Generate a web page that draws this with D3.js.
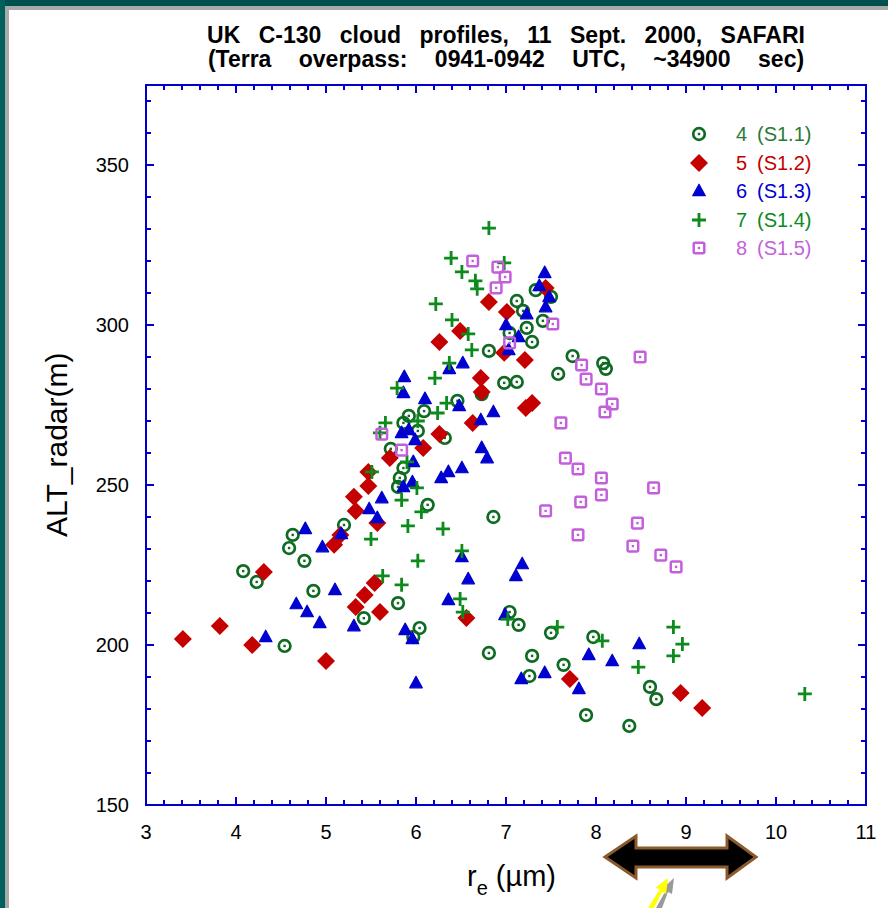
<!DOCTYPE html>
<html>
<head>
<meta charset="utf-8">
<title>UK C-130 cloud profiles</title>
<style>
  body { margin: 0; background: #fff; }
  text { font-family: "Liberation Sans", Arial, sans-serif; }
</style>
</head>
<body>
<svg id="chart" width="888" height="908"></svg>
<script src="https://d3js.org/d3.v7.min.js"></script>
<script>
// profile 4 (S1.1) - effective radius (um) and radar altitude (m)
const re4 = [4.08, 4.23, 4.63, 4.59, 4.76, 4.86, 4.54, 5.20, 5.80, 5.42, 6.04, 5.97, 6.13, 5.80, 5.82, 5.86, 5.72, 6.32,
  5.86, 6.02, 5.92, 6.09, 6.46, 6.73, 6.98, 7.12, 7.58, 7.74, 6.81, 7.04, 7.29, 7.23, 7.41, 7.12, 7.19, 7.33, 7.50,
  8.08, 8.11, 6.86, 7.04, 7.14, 6.81, 7.29, 7.26, 7.50, 7.64, 7.97, 8.60, 8.67, 7.89, 8.37];
const alt4 = [223.1, 219.7, 234.4, 230.3, 226.3, 216.9, 199.7, 237.5, 213.1, 208.4, 205.3, 202.5, 243.8, 249.4, 252.2,
  255.3, 261.3, 264.7, 269.4, 266.9, 271.6, 273.1, 276.3, 278.4, 281.9, 282.2, 284.7, 290.3, 291.9, 297.5, 294.7, 299.1,
  301.3, 307.5, 304.4, 310.9, 308.8, 288.1, 286.3, 240.0, 210.3, 206.3, 197.5, 196.6, 190.3, 203.8, 193.8, 202.5,
  186.9, 183.1, 178.1, 174.7];

// profile 5 (S1.2)
const re5 = [3.41, 3.82, 4.18, 4.31, 5.00, 5.09, 5.16, 5.33, 5.31, 5.57, 5.47, 5.47, 5.71, 5.54, 5.43, 5.33, 5.60, 6.08,
  6.26, 6.63, 6.73, 6.72, 7.22, 7.29, 7.21, 6.98, 6.26, 6.49, 6.81, 7.01, 7.44, 6.56, 7.71, 8.94, 9.18];
const alt5 = [201.9, 205.9, 200.0, 222.8, 195.0, 231.3, 234.4, 241.9, 246.3, 238.1, 249.7, 254.1, 258.4, 219.4, 215.6,
  211.9, 210.3, 261.6, 265.9, 269.4, 279.1, 283.4, 274.1, 275.6, 289.1, 291.3, 294.7, 298.1, 307.2, 304.1, 311.6,
  208.4, 189.4, 185.0, 180.3];

// profile 6 (S1.3)
const re6 = [4.33, 4.67, 4.77, 4.79, 4.93, 4.96, 5.10, 5.17, 5.31, 5.48, 5.57, 5.62, 5.86, 5.96, 6.28, 5.88, 5.96, 6.00,
  6.36, 5.97, 6.36, 6.51, 5.84, 5.92, 5.99, 5.86, 5.87, 6.10, 6.48, 6.72, 6.86, 6.73, 6.79, 6.37, 6.52, 7.03, 7.14,
  7.00, 7.23, 7.44, 7.48, 7.37, 7.43, 6.51, 6.58, 7.11, 7.18, 6.99, 7.17, 7.43, 7.81, 7.92, 8.18, 8.48];
const alt6 = [202.5, 212.8, 236.3, 210.3, 206.9, 230.6, 217.2, 234.7, 205.9, 242.5, 239.7, 245.9, 249.4, 250.9, 252.2,
  204.7, 201.9, 188.1, 214.1, 257.2, 254.1, 255.3, 266.3, 267.2, 264.1, 278.8, 283.8, 276.9, 274.7, 270.3, 272.8,
  261.6, 258.4, 286.3, 288.1, 292.2, 296.3, 300.0, 303.4, 305.6, 308.8, 312.2, 316.3, 227.5, 220.6, 221.6, 225.3,
  209.4, 189.4, 191.3, 186.3, 196.9, 195.0, 200.3];

// profile 7 (S1.4)
const re7 = [6.81, 6.39, 6.98, 6.51, 6.66, 6.68, 6.22, 6.40, 6.58, 6.62, 6.37, 6.21, 5.79, 6.34, 6.24, 6.02, 5.66, 5.60,
  5.90, 5.51, 6.01, 5.84, 6.06, 5.91, 5.50, 6.30, 6.02, 5.63, 5.84, 6.51, 6.49, 6.52, 7.02, 7.57, 8.07, 8.47, 8.86,
  8.96, 8.86, 10.32];
const alt7 = [330.3, 320.9, 319.4, 316.6, 313.8, 311.3, 306.6, 301.6, 297.2, 292.2, 288.1, 283.4, 280.3, 275.6, 272.5,
  270.0, 269.4, 266.3, 257.2, 254.1, 249.1, 245.3, 241.6, 237.2, 233.1, 236.3, 226.3, 221.6, 218.8, 229.4, 214.4,
  210.3, 208.1, 205.6, 201.3, 193.1, 205.6, 200.3, 196.6, 184.7];

// profile 8 (S1.5)
const re8 = [6.63, 6.91, 6.99, 6.89, 7.52, 7.04, 8.49, 7.84, 7.89, 8.06, 8.18, 8.10, 7.61, 5.62, 5.84, 7.66, 7.80, 8.06,
  8.06, 7.83, 8.64, 7.44, 7.80, 8.46, 8.41, 8.72, 8.89];
const alt8 = [320.0, 318.1, 315.0, 311.6, 300.3, 294.4, 290.0, 287.5, 283.1, 280.0, 275.3, 272.8, 269.4, 265.9, 260.9,
  258.4, 255.0, 252.2, 246.9, 244.7, 249.1, 241.9, 234.4, 238.1, 230.9, 228.1, 224.4];

const seriesNames = ["4", "5", "6", "7", "8"];
const seriesLabels = ["(S1.1)", "(S1.2)", "(S1.3)", "(S1.4)", "(S1.5)"];
const xTicks = [3, 4, 5, 6, 7, 8, 9, 10, 11];
const yTicks = [150, 200, 250, 300, 350];

const svg = d3.select("#chart");
const axisBlue = "#0000cc";

// slide frame
svg.append("rect").attr("width", 888).attr("height", 908).attr("fill", "#fff");
svg.append("rect").attr("x", 5).attr("y", 6).attr("width", 883).attr("height", 4).attr("fill", "#a9a9a9");
svg.append("rect").attr("x", 5).attr("y", 6).attr("width", 4).attr("height", 902).attr("fill", "#a9a9a9");
svg.append("rect").attr("width", 888).attr("height", 6).attr("fill", "#00504f");
svg.append("rect").attr("width", 5).attr("height", 908).attr("fill", "#00605e");

// title
const title = svg.append("text").attr("x", 506).attr("text-anchor", "middle")
  .attr("font-size", 23).attr("font-weight", "bold").attr("fill", "#000");
title.append("tspan").attr("x", 506).attr("y", 43).attr("word-spacing", 12)
  .text("UK C-130 cloud profiles, 11 Sept. 2000, SAFARI");
title.append("tspan").attr("x", 506).attr("y", 67).attr("word-spacing", 21)
  .text("(Terra overpass: 0941-0942 UTC, ~34900 sec)");

const x = d3.scaleLinear().domain([3, 11]).range([146, 866]);
const y = d3.scaleLinear().domain([150, 375]).range([805, 85]);

// ticks, all pointing inward
const g = svg.append("g").attr("stroke", axisBlue).attr("stroke-width", 2);
const xMinor = d3.range(3, 11.001, 0.2);
const yMinor = d3.range(150, 375.001, 10);
xMinor.forEach(v => {
  const major = Math.abs(v - Math.round(v)) < 1e-6;
  const len = major ? 8 : 5;
  g.append("line").attr("x1", x(v)).attr("x2", x(v)).attr("y1", y(150)).attr("y2", y(150) - len);
  g.append("line").attr("x1", x(v)).attr("x2", x(v)).attr("y1", y(375)).attr("y2", y(375) + len);
});
yMinor.forEach(v => {
  const major = v % 50 === 0;
  const len = major ? 8 : 5;
  g.append("line").attr("y1", y(v)).attr("y2", y(v)).attr("x1", x(3)).attr("x2", x(3) + len);
  g.append("line").attr("y1", y(v)).attr("y2", y(v)).attr("x1", x(11)).attr("x2", x(11) - len);
});
svg.append("rect").attr("x", x(3)).attr("y", y(375)).attr("width", x(11) - x(3)).attr("height", y(150) - y(375))
  .attr("fill", "none").attr("stroke", axisBlue).attr("stroke-width", 2);

// tick labels
svg.selectAll(".xl").data(xTicks).join("text").attr("class", "xl")
  .attr("x", d => x(d)).attr("y", 839).attr("text-anchor", "middle").attr("font-size", 20).text(d => d);
svg.selectAll(".yl").data(yTicks).join("text").attr("class", "yl")
  .attr("x", 129).attr("y", d => y(d) + 7).attr("text-anchor", "end").attr("font-size", 20).text(d => d);

// axis titles
svg.append("text").attr("transform", "translate(67,537) rotate(-90)").attr("font-size", 30).text("ALT_radar(m)");
const xt = svg.append("text").attr("x", 467).attr("y", 886).attr("font-size", 29);
xt.append("tspan").text("r");
xt.append("tspan").attr("font-size", 20).attr("dy", 9).text("e");
xt.append("tspan").attr("dy", -9).attr("dx", 8).text("(µm)");

// marker painters
const colors = ["#0f6a22", "#c40000", "#0000d0", "#0c8a1c", "#c45fdc"];
function drawMarker(sel, k) {
  const c = colors[k];
  if (k === 0) {
    sel.append("circle").attr("r", 5.8).attr("fill", "none").attr("stroke", c).attr("stroke-width", 2.7);
    sel.append("rect").attr("x", -1.2).attr("y", -1.2).attr("width", 2.4).attr("height", 2.4).attr("fill", c);
  } else if (k === 1) {
    sel.append("path").attr("d", "M0,-9L9,0L0,9L-9,0Z").attr("fill", c);
  } else if (k === 2) {
    sel.append("path").attr("d", "M0,-6.8L6.3,4.7L-6.3,4.7Z").attr("fill", c).attr("stroke", c)
      .attr("stroke-width", 1.2).attr("stroke-linejoin", "round");
  } else if (k === 3) {
    sel.append("path").attr("d", "M-7,0H7M0,-7V7").attr("stroke", c).attr("stroke-width", 2.8);
  } else {
    sel.append("rect").attr("x", -5.3).attr("y", -5.3).attr("width", 10.6).attr("height", 10.6).attr("rx", 1.5)
      .attr("fill", "none").attr("stroke", c).attr("stroke-width", 2.5);
    sel.append("rect").attr("x", -1.2).attr("y", -1.2).attr("width", 2.4).attr("height", 2.4).attr("fill", c);
  }
}

const series = [[re4, alt4], [re5, alt5], [re6, alt6], [re7, alt7], [re8, alt8]];
series.forEach(([xs, ys], k) => {
  const pts = xs.map((v, i) => [v, ys[i]]);
  svg.append("g").selectAll("g").data(pts).join("g")
    .attr("transform", d => `translate(${x(d[0])},${y(d[1])})`)
    .each(function() { drawMarker(d3.select(this), k); });
});

// legend
const legendY = [134, 163, 191, 220, 248];
seriesNames.forEach((name, k) => {
  const row = svg.append("g").attr("transform", `translate(699,${legendY[k]})`);
  drawMarker(row, k);
  const textColor = k === 0 ? "#2a7a36" : colors[k];
  svg.append("text").attr("x", 736).attr("y", legendY[k] + 7).attr("font-size", 20).attr("fill", textColor).text(name);
  svg.append("text").attr("x", 757).attr("y", legendY[k] + 7).attr("font-size", 20).attr("fill", textColor)
    .text(seriesLabels[k]);
});

// double arrow annotation
svg.append("path")
  .attr("d", "M605,857L636,836L636,848L727,848L727,836L756,857L727,878L727,867L636,867L636,878Z")
  .attr("fill", "#000").attr("stroke", "#8b5a2b").attr("stroke-width", 3).attr("stroke-linejoin", "miter");

// small pointer arrow under it
svg.append("path").attr("d", "M656,908L666,890L662,889L674,878L672,894L668,892L662,908Z").attr("fill", "#9a9a9a");
svg.append("path").attr("d", "M648,908L660,889L655,888L668,878L666,894L662,892L654,908Z").attr("fill", "#ffff00");
</script>
</body>
</html>
